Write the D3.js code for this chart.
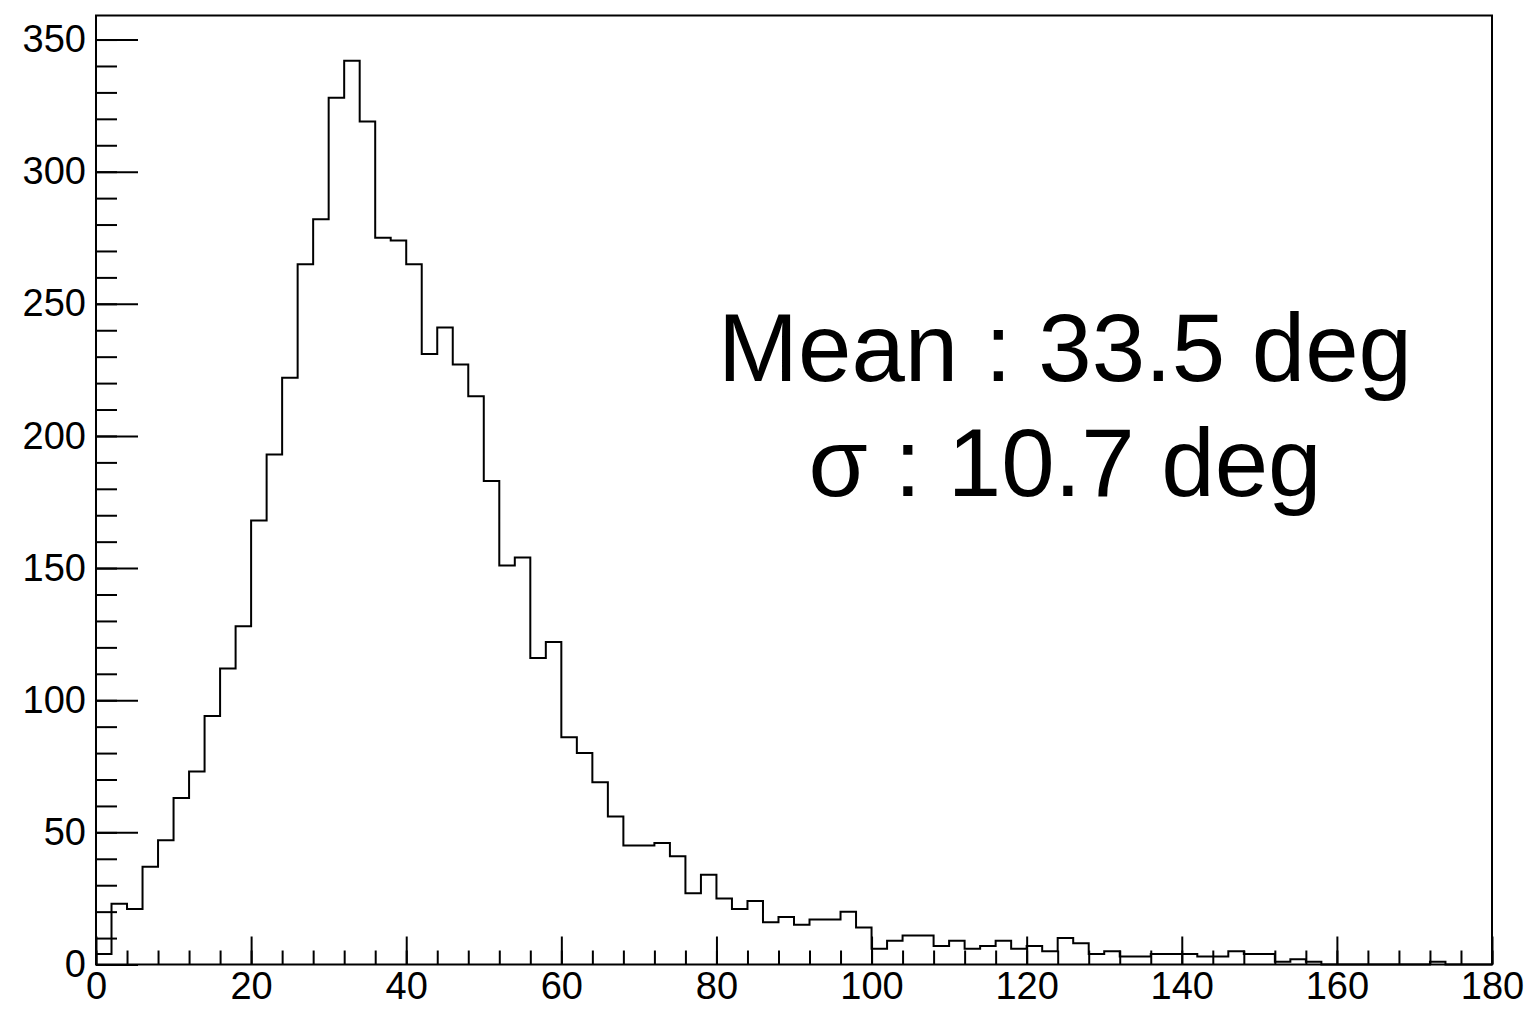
<!DOCTYPE html>
<html>
<head>
<meta charset="utf-8">
<script src="https://cdn.jsdelivr.net/npm/d3@7"></script>
<style>
  body { margin: 0; background: #fff; }
  text { font-family: "Liberation Sans", Arial, sans-serif; fill: #000; }
</style>
</head>
<body>
<div id="graph"></div>
<script>
var width = 1531;
var height = 1009;

// histogram: 90 bins of 2 deg from 0 to 180
var binLow = 0;
var binWidth = 2;
var counts = [
  4, 23, 21, 37, 47, 63, 73, 94, 112, 128,
  168, 193, 222, 265, 282, 328, 342, 319, 275, 274,
  265, 231, 241, 227, 215, 183, 151, 154, 116, 122,
  86, 80, 69, 56, 45, 45, 46, 41, 27, 34,
  25, 21, 24, 16, 18, 15, 17, 17, 20, 14,
  6, 9, 11, 11, 7, 9, 6, 7, 9, 6,
  7, 5, 10, 8, 4, 5, 3, 3, 4, 4,
  4, 3, 3, 5, 4, 4, 1, 2, 1, 0,
  0, 0, 0, 0, 0, 0, 1, 0, 0, 0
];
var xMajor = [0, 20, 40, 60, 80, 100, 120, 140, 160, 180];
var yMajor = [0, 50, 100, 150, 200, 250, 300, 350];
var statLines = ["Mean : 33.5 deg", "\u03c3 : 10.7 deg"];

// frame edges (pixels)
var fLeft = 96, fRight = 1492, fTop = 15.5, fBottom = 964.5;

var x = d3.scaleLinear()
  .domain([0, 180])
  .range([fLeft, fRight]);

var y = d3.scaleLinear()
  .domain([0, d3.max(counts) * 1.05])
  .range([fBottom, fTop]);

var svg = d3.select('#graph')
  .append('svg')
  .attr('width', width)
  .attr('height', height);

// x axis, ticks pointing up into the frame
svg.append('g')
  .attr('transform', 'translate(0,' + fBottom + ')')
  .call(d3.axisBottom(x).tickValues(xMajor).tickSize(-28).tickPadding(8).tickFormat(d3.format('d')));
svg.append('g')
  .attr('transform', 'translate(0,' + fBottom + ')')
  .call(d3.axisBottom(x).tickValues(d3.range(0, 181, 4)).tickSize(-14).tickFormat(''));

// y axis, ticks pointing right
svg.append('g')
  .attr('transform', 'translate(' + fLeft + ',0)')
  .call(d3.axisLeft(y).tickValues(yMajor).tickSize(-42).tickPadding(10));
svg.append('g')
  .attr('transform', 'translate(' + fLeft + ',0)')
  .call(d3.axisLeft(y).tickValues(d3.range(0, 359, 10)).tickSize(-21).tickFormat(''));

svg.selectAll('.domain').remove();
svg.selectAll('.tick line').attr('stroke', '#000').attr('stroke-width', 2);
svg.selectAll('.tick text')
  .attr('font-size', 38)
  .style('font-family', '"Liberation Sans", Arial, sans-serif');

// frame
svg.append('rect')
  .attr('x', fLeft)
  .attr('y', fTop)
  .attr('width', fRight - fLeft)
  .attr('height', fBottom - fTop)
  .attr('fill', 'none')
  .attr('stroke', '#000')
  .attr('stroke-width', 2);

// histogram outline as a step line
var pts = [{ e: binLow, v: 0 }];
counts.forEach(function(c, i) {
  pts.push({ e: binLow + i * binWidth, v: c });
});
pts.push({ e: binLow + counts.length * binWidth, v: 0 });

var step = d3.line()
  .x(function(d) { return x(d.e); })
  .y(function(d) { return y(d.v); })
  .curve(d3.curveStepAfter);

svg.append('path')
  .datum(pts)
  .attr('d', step)
  .attr('fill', 'none')
  .attr('stroke', '#000')
  .attr('stroke-width', 2);

// stats text
svg.selectAll('.stat')
  .data(statLines)
  .enter()
  .append('text')
    .attr('class', 'stat')
    .attr('x', 1065)
    .attr('y', function(d, i) { return 381 + i * 115; })
    .attr('text-anchor', 'middle')
    .attr('font-size', 96)
    .text(function(d) { return d; });
</script>
</body>
</html>
